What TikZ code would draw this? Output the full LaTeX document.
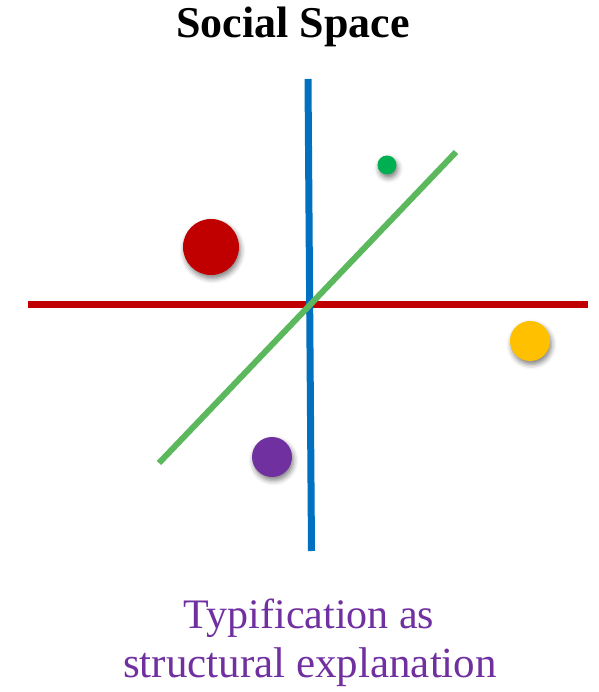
\documentclass[tikz,border=0pt]{standalone}
\usepackage{fontspec}
\setmainfont{Liberation Serif}
\usetikzlibrary{shadows.blur}
\definecolor{axisred}{HTML}{C00000}
\definecolor{axisblue}{HTML}{0070C0}
\definecolor{axisgreen}{HTML}{5CB85C}
\definecolor{dotgreen}{HTML}{00B050}
\definecolor{dotyellow}{HTML}{FFC000}
\definecolor{dotpurple}{HTML}{7030A0}
\begin{document}
\begin{tikzpicture}[x=1pt,y=-1pt,axis/.style={line width=7pt},dot/.style={circle,inner sep=0pt,blur shadow={shadow xshift=1.5pt,shadow yshift=-3.5pt,shadow blur radius=5pt,shadow opacity=50}},label/.style={anchor=base,inner sep=0pt}]
\useasboundingbox (0,0) rectangle (598,692);
\node[label,font=\fontsize{44}{50}\selectfont\bfseries] (title) at (293,38) {Social Space};
% axes
\coordinate (redL) at (28,304);\coordinate (redR) at (588,304);
\coordinate (blueT) at (308,79);\coordinate (blueB) at (311.5,551);
\coordinate (greenL) at (159,463);\coordinate (greenR) at (456,152);
\draw[axis,draw=axisred] (redL)--(redR);
\draw[axis,draw=axisblue] (blueT)--(blueB);
\draw[axis,line width=6pt,draw=axisgreen] (greenL)--(greenR);
% positions
\node[dot,fill=axisred,minimum size=56pt] (reddot) at (211,247) {};
\node[dot,fill=dotgreen,minimum size=19pt] (greendot) at (387,165) {};
\node[dot,fill=dotyellow,minimum size=40pt] (yellowdot) at (530,341) {};
\node[dot,fill=dotpurple,minimum size=40pt] (purpledot) at (272,457) {};
\node[label,text=dotpurple,font=\fontsize{42}{48}\selectfont] (cap1) at (309,628) {Typification as};
\node[label,text=dotpurple,font=\fontsize{43}{48}\selectfont] (cap2) at (310,677) {structural explanation};
\end{tikzpicture}
\end{document}
